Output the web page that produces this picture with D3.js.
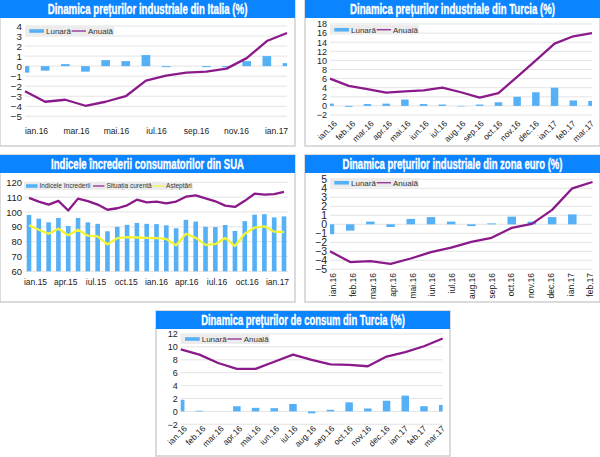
<!DOCTYPE html>
<html>
<head>
<meta charset="utf-8">
<script src="https://cdn.jsdelivr.net/npm/d3@7"></script>
<style>
  body { margin: 0; background: #fff; }
  svg { display: block; }
  text { font-family: "Liberation Sans", Arial, sans-serif; }
</style>
</head>
<body>
<div id="chart"></div>
<script>
const months16 = ["ian.16","feb.16","mar.16","apr.16","mai.16","iun.16","iul.16","aug.16","sep.16","oct.16","nov.16","dec.16","ian.17","feb.17","mar.17"];
const months16short = months16.slice(0, 14);
const legendMonthly = "Lunară";
const legendAnnual = "Anuală";

const italyMonthly = [-0.65,-0.45,0.2,-0.55,0.6,0.5,1.1,-0.1,0,-0.1,-0.1,0.5,1.0,0.3];
const italyAnnual = [-2.5,-3.55,-3.35,-3.95,-3.55,-3.0,-1.45,-0.95,-0.65,-0.55,-0.25,0.8,2.5,3.3];
const italyTicks = [4,3,2,1,0,-1,-2,-3,-4,-5];

const turkeyIndMonthly = [0.5,-0.2,0.4,0.5,1.4,0.4,0.3,-0.1,0.3,0.8,2,3,4,1.2,1.1];
const turkeyIndAnnual = [6,4.4,3.7,2.9,3.2,3.4,4,3,1.8,2.8,6.4,10,13.7,15.3,16];
const turkeyIndTicks = [18,16,14,12,10,8,6,4,2,0,-2];

const usMonths = ["ian.15","feb.15","mar.15","apr.15","mai.15","iun.15","iul.15","aug.15","sep.15","oct.15","nov.15","dec.15","ian.16","feb.16","mar.16","apr.16","mai.16","iun.16","iul.16","aug.16","sep.16","oct.16","nov.16","dec.16","ian.17","feb.17","mar.17"];
const usLabels = ["ian.15","apr.15","iul.15","oct.15","ian.16","apr.16","iul.16","oct.16","ian.17"];
const usIndex = [98,95.5,93,96,90.5,96,93,92,87,90,91.3,92.6,92,91.8,91,89,94.7,93.5,90,89.8,91.2,87.2,93.8,98.2,98.5,96.3,97];
const usCurrent = [109.5,107,105,107.5,101,109,107.3,105,101.5,102.5,104.5,108.3,106.5,107,105.8,107,110.3,111.2,109.2,107.2,104.3,103.4,107.5,112.3,111.7,112,113.5];
const usExpect = [91,88,85.3,88.7,84.3,88,84,83.5,78.2,82.3,83,82.8,82.6,82.3,81.8,77.5,85.3,82.5,77.8,78.3,82.5,77,85.3,89.5,90.3,86.7,86.5];
const usTicks = [120,110,100,90,80,70,60];

const euroMonthly = [-1.1,-0.7,0.3,-0.3,0.6,0.8,0.3,-0.2,0.1,0.85,0.3,0.8,1.1,0];
const euroAnnual = [-3,-4.2,-4.1,-4.4,-3.8,-3.1,-2.6,-1.95,-1.5,-0.4,0.05,1.6,4,4.7];
const euroTicks = [5,4,3,2,1,0,-1,-2,-3,-4,-5];

const turkeyCpiMonthly = [1.8,0.1,0,0.8,0.55,0.5,1.15,-0.3,0.25,1.4,0.45,1.65,2.45,0.8,1];
const turkeyCpiAnnual = [9.6,8.8,7.5,6.6,6.6,7.7,8.8,8,7.3,7.2,7,8.5,9.2,10.1,11.3];
const turkeyCpiTicks = [12,10,8,6,4,2,0,-2];

const BLUE = "#55b0f5", PURPLE = "#8a1a8a", YELLOW = "#f4f435", TITLE = "#0a84ff";

const svg = d3.select("#chart").append("svg").attr("width", 600).attr("height", 457);

function frame(b, title, titleW) {
    const g = svg.append("g");
    g.append("rect").attr("x", b.x).attr("y", b.y).attr("width", b.w).attr("height", b.h)
        .attr("fill", "#fff").attr("stroke", "#cfcfcf").attr("stroke-width", 1.5);
    g.append("rect").attr("x", b.x).attr("y", b.y).attr("width", b.w).attr("height", 18).attr("fill", TITLE);
    // no narrow font here, so squeeze the bold one to the width in the picture
    const t = g.append("text").attr("text-anchor", "middle")
        .attr("fill", "#fff").attr("stroke", "#fff").attr("stroke-width", 0.35)
        .style("font-weight", "bold").style("font-size", "14px").text(title);
    const k = titleW / t.node().getComputedTextLength();
    t.attr("transform", `translate(${b.x + b.w / 2},${b.y + 14}) scale(${k},1)`);
}

function legend(x, y, w, h, items) {
    const g = svg.append("g");
    g.append("rect").attr("x", x).attr("y", y).attr("width", w).attr("height", h).attr("fill", "#ececec");
    items.forEach(d => {
        if (d.bar) {
            g.append("rect").attr("x", x + d.at).attr("y", y + h / 2 - 1.8).attr("width", d.len).attr("height", 3.6).attr("fill", d.color);
        } else {
            g.append("line").attr("x1", x + d.at).attr("x2", x + d.at + d.len).attr("y1", y + h / 2).attr("y2", y + h / 2)
                .attr("stroke", d.color).attr("stroke-width", 1.2);
        }
        g.append("text").attr("x", x + d.at + d.len + 2).attr("y", y + h / 2 + d.size * 0.36).attr("fill", "#333")
            .style("font-size", d.size + "px").text(d.label);
    });
}

function lunarLegend(x, y, h) {
    legend(x, y, 89, h, [
        {bar: true, color: BLUE, at: 4.3, len: 14.7, label: legendMonthly, size: 8},
        {bar: false, color: PURPLE, at: 46.7, len: 14.3, label: legendAnnual, size: 8}]);
}

function panel(o) {
    const g = svg.append("g");
    const x = d3.scalePoint().domain(o.cats).range(o.xr);
    const y = d3.scaleLinear().domain([o.ticks[o.ticks.length - 1], o.ticks[0]]).range(o.yr);
    const gridX = o.gridX || o.xr;

    g.append("g").selectAll("line").data(o.ticks).enter().append("line")
        .attr("x1", gridX[0]).attr("x2", gridX[1])
        .attr("y1", d => y(d)).attr("y2", d => y(d))
        .attr("stroke", "#dcdcdc").attr("stroke-width", 0.8);

    // bars on the first and last category get cut at the plot edge
    const clip = "clip" + Math.round(o.xr[0]) + "-" + Math.round(o.yr[0]);
    g.append("clipPath").attr("id", clip).append("rect")
        .attr("x", gridX[0]).attr("y", o.yr[1] - 5).attr("width", gridX[1] - gridX[0]).attr("height", o.yr[0] - o.yr[1] + 10);

    const base = o.base === undefined ? 0 : o.base;
    g.append("g").attr("clip-path", `url(#${clip})`).selectAll("rect").data(o.bars).enter().append("rect")
        .attr("x", (d, i) => x(o.cats[i]) - o.barW / 2)
        .attr("width", o.barW)
        .attr("y", d => Math.min(y(d), y(base)))
        .attr("height", d => Math.abs(y(d) - y(base)))
        .attr("fill", BLUE);

    const line = d3.line().x((d, i) => x(o.cats[i])).y(d => y(d));
    o.lines.forEach(l => {
        g.append("path").datum(l.values).attr("fill", "none").attr("stroke", l.color)
            .attr("stroke-width", 2.3).attr("stroke-linejoin", "round").attr("d", line);
    });

    const yAxis = g.append("g").attr("transform", `translate(${gridX[0]},0)`)
        .call(d3.axisLeft(y).tickValues(o.ticks).tickSize(0).tickPadding(3));
    yAxis.select(".domain").remove();
    yAxis.selectAll("text").attr("fill", "#222").style("font-size", o.yFont + "px").style("font-family", '"Liberation Sans", sans-serif');

    const lx = d3.scalePoint().domain(o.labels).range(o.labelRange);
    const xAxis = g.append("g").attr("transform", `translate(0,${o.labelY})`)
        .call(d3.axisBottom(lx).tickSize(0).tickPadding(0));
    xAxis.select(".domain").remove();
    const tx = xAxis.selectAll("text").attr("fill", "#222").style("font-size", "8.5px").style("font-family", '"Liberation Sans", sans-serif');
    if (o.rotate) {
        tx.attr("text-anchor", "end").attr("dy", "0.35em").attr("y", 0).attr("x", 0)
            .attr("transform", `rotate(${o.rotate})`);
    }
}

// Italy
frame({x: 0, y: 0, w: 295, h: 146}, "Dinamica prețurilor industriale din Italia (%)", 200);
panel({cats: months16short, bars: italyMonthly, lines: [{values: italyAnnual, color: PURPLE}], ticks: italyTicks,
    xr: [25, 287], yr: [116.3, 26], barW: 8.7, yFont: 9.8,
    labels: ["ian.16","mar.16","mai.16","iul.16","sep.16","nov.16","ian.17"], labelRange: [36, 276], labelY: 127.5});
lunarLegend(25, 26, 10);

// Turkey industrial
frame({x: 305, y: 0, w: 295, h: 146}, "Dinamica prețurilor industriale din Turcia (%)", 205);
panel({cats: months16, bars: turkeyIndMonthly, lines: [{values: turkeyIndAnnual, color: PURPLE}], ticks: turkeyIndTicks,
    xr: [330, 592], yr: [115, 24], barW: 7.5, yFont: 9,
    labels: months16, labelRange: [335, 592], labelY: 122, rotate: -45});
lunarLegend(330, 25, 9.5);

// US confidence
frame({x: 0, y: 155, w: 295, h: 147}, "Indicele încrederii consumatorilor din SUA", 193);
panel({cats: usMonths, bars: usIndex, base: 60, lines: [{values: usCurrent, color: PURPLE}, {values: usExpect, color: YELLOW}], ticks: usTicks,
    xr: [29, 284], gridX: [25, 288], yr: [271.3, 182.3], barW: 4.6, yFont: 9.5,
    labels: usLabels, labelRange: [35, 277], labelY: 278.5});
legend(24, 182, 169, 8, [
    {bar: true, color: BLUE, at: 2, len: 11.5, label: "Indicele încrederii", size: 6.5},
    {bar: false, color: PURPLE, at: 69, len: 11.5, label: "Situația curentă", size: 6.5},
    {bar: false, color: YELLOW, at: 128.6, len: 11.5, label: "Așteptări", size: 6.5}]);

// Euro zone
frame({x: 305, y: 155, w: 295, h: 147}, "Dinamica prețurilor industriale din zona euro (%)", 220);
panel({cats: months16short, bars: euroMonthly, lines: [{values: euroAnnual, color: PURPLE}], ticks: euroTicks,
    xr: [330, 592.5], yr: [269.3, 179.3], barW: 8.5, yFont: 10.5,
    labels: months16short, labelRange: [333, 590], labelY: 273, rotate: -90});
lunarLegend(330, 178, 9.5);

// Turkey CPI
frame({x: 156, y: 311, w: 294, h: 145}, "Dinamica prețurilor de consum din Turcia (%)", 204);
panel({cats: months16, bars: turkeyCpiMonthly, lines: [{values: turkeyCpiAnnual, color: PURPLE}], ticks: turkeyCpiTicks,
    xr: [180.7, 442.7], yr: [424.3, 334], barW: 7.5, yFont: 9,
    labels: months16, labelRange: [185, 443], labelY: 427, rotate: -45});
lunarLegend(180.7, 334, 10);
</script>
</body>
</html>
